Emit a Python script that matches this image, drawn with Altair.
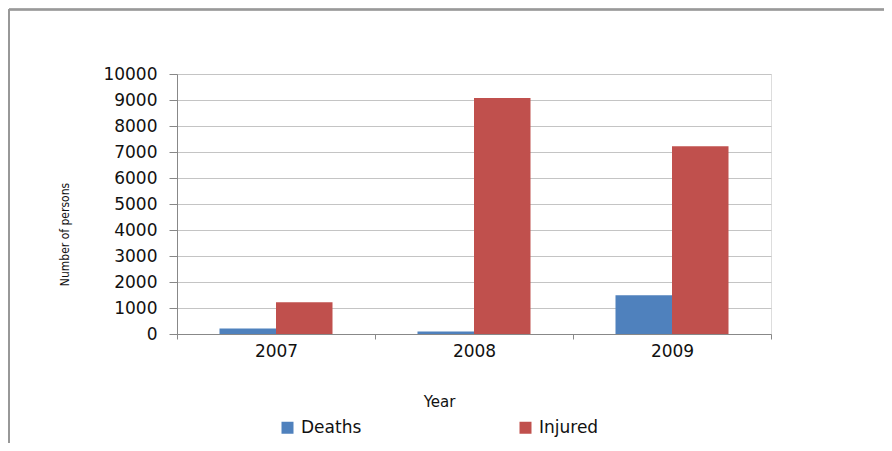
import altair as alt
import pandas as pd

years = ["2007", "2008", "2009"]
deaths = [210, 100, 1490]
injured = [1220, 9080, 7220]
series = ["Deaths", "Injured"]
colors = ["#4F81BD", "#C0504D"]
y_ticks = list(range(0, 10001, 1000))

rows = []
for i, yr in enumerate(years):
    rows.append({"Year": yr, "Series": "Deaths", "Value": deaths[i]})
    rows.append({"Year": yr, "Series": "Injured", "Value": injured[i]})
df = pd.DataFrame(rows)

W, H = 594, 260

bars = alt.Chart(df).mark_bar(stroke=None).encode(
    x=alt.X("Year:N", sort=years,
            scale=alt.Scale(paddingInner=0, paddingOuter=0),
            axis=alt.Axis(title="Year", labelAngle=0, labelFontSize=17,
                          labelFont="DejaVu Sans", labelColor="#111",
                          tickBand="extent", tickSize=5, tickColor="#888",
                          domainColor="#888", labelPadding=4,
                          titleFont="DejaVu Sans", titleFontSize=15,
                          titleFontWeight="normal", titleColor="#111",
                          titleX=262, titleY=67, titleBaseline="middle",
                          grid=False)),
    xOffset=alt.XOffset("Series:N", sort=series,
                        scale=alt.Scale(paddingInner=0, paddingOuter=0.752)),
    y=alt.Y("Value:Q", scale=alt.Scale(domain=[0, 10000], nice=False),
            axis=alt.Axis(values=y_ticks, format="d", title="Number of persons",
                          labelFontSize=17, labelFont="DejaVu Sans",
                          labelColor="#111", tickSize=8, tickColor="#888",
                          domainColor="#888", labelPadding=12,
                          gridColor="#c4c4c4", gridWidth=1.2,
                          titleFont="DejaVu Sans Condensed, Liberation Sans Narrow, Liberation Sans",
                          titleFontSize=12,
                          titleFontWeight="normal", titleColor="#111",
                          titleX=-113, titleY=160, titleAlign="center",
                          titleBaseline="middle", titleAngle=-90)),
    color=alt.Color("Series:N", sort=series,
                    scale=alt.Scale(domain=series, range=colors),
                    legend=alt.Legend(title=None, orient="none", legendX=102,
                                      legendY=345, direction="horizontal",
                                      columns=2, columnPadding=155, padding=0,
                                      symbolType="square", symbolSize=144,
                                      symbolStrokeWidth=0, symbolOffset=0,
                                      labelFont="DejaVu Sans", labelFontSize=17,
                                      labelColor="#111", labelOffset=5)),
)

frame_top = alt.Chart(df).mark_rule(color="#999", strokeWidth=1.5).encode(
    x=alt.value(-168), x2=alt.value(876 - 169), y=alt.value(-64.5))
frame_left = alt.Chart(df).mark_rule(color="#999", strokeWidth=1.5).encode(
    x=alt.value(-168), y=alt.value(-64.5), y2=alt.value(435 - 66))

chart = alt.layer(bars, frame_top, frame_left).properties(
    width=W, height=H,
    autosize=alt.AutoSizeParams(type="none"),
    padding={"left": 169, "top": 66, "right": 113, "bottom": 109},
).configure_view(stroke=None).configure(background="white")

chart.save("out.html", embed_options={"renderer": "svg", "actions": False})
